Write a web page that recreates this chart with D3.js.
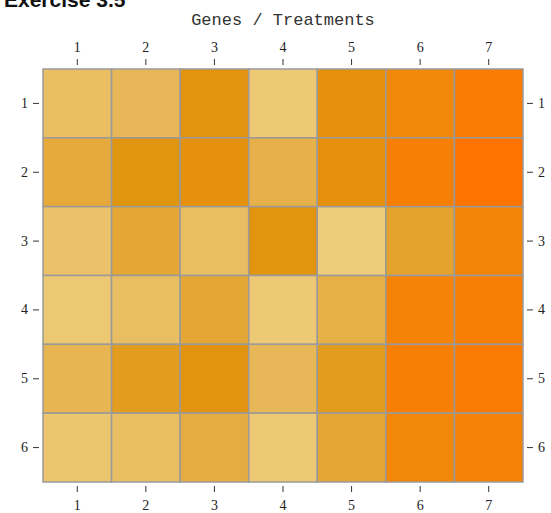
<!DOCTYPE html>
<html lang="en">
<head>
<meta charset="utf-8">
<title>Genes / Treatments</title>
<style>
  body { margin: 0; background: #fff; }
  .tick text { font-family: "Liberation Serif", serif; font-size: 14px; fill: #222; }
  .tick line { stroke: #333; }
</style>
</head>
<body>
<div id="chart"></div>
<script src="https://cdn.jsdelivr.net/npm/d3@7"></script>
<script>
var treatments = ["1", "2", "3", "4", "5", "6", "7"];
var genes = ["1", "2", "3", "4", "5", "6"];

// expression level per gene (row) and treatment (column), 0..1
var row1 = [0.22, 0.30, 0.58, 0.10, 0.62, 0.78, 0.92];
var row2 = [0.40, 0.55, 0.62, 0.35, 0.64, 0.88, 1.00];
var row3 = [0.18, 0.42, 0.24, 0.56, 0.06, 0.45, 0.82];
var row4 = [0.12, 0.24, 0.42, 0.10, 0.36, 0.84, 0.88];
var row5 = [0.32, 0.50, 0.58, 0.30, 0.50, 0.88, 0.92];
var row6 = [0.14, 0.22, 0.38, 0.10, 0.42, 0.80, 0.86];
var values = [row1, row2, row3, row4, row5, row6];

var width = 551, height = 513;
var gridLeft = 43, gridRight = 523, gridTop = 69, gridBottom = 482;

var svg = d3.select("#chart").append("svg")
    .attr("width", width)
    .attr("height", height);

var x = d3.scaleBand().domain(treatments).range([gridLeft, gridRight]);
var y = d3.scaleBand().domain(genes).range([gridTop, gridBottom]);

var color = d3.scaleLinear()
    .domain([0, 0.3, 0.55, 0.8, 1])
    .range(["#efd283", "#e8b858", "#e09510", "#f2870a", "#ff7300"]);

// header text cut off at the top of the image
svg.append("text")
    .attr("x", 4)
    .attr("y", 7)
    .style("font-family", "Liberation Sans, sans-serif")
    .style("font-weight", "bold")
    .style("font-size", "21px")
    .style("fill", "#111")
    .text("Exercise 3.5");

svg.append("text")
    .attr("x", 283)
    .attr("y", 25)
    .attr("text-anchor", "middle")
    .style("font-family", "Liberation Mono, monospace")
    .style("font-size", "17px")
    .style("fill", "#333")
    .text("Genes / Treatments");

var cells = [];
values.forEach(function(r, i) {
  r.forEach(function(v, j) {
    cells.push({gene: genes[i], treat: treatments[j], value: v});
  });
});

svg.selectAll(".cell")
    .data(cells)
  .enter().append("rect")
    .attr("class", "cell")
    .attr("x", function(d) { return x(d.treat); })
    .attr("y", function(d) { return y(d.gene); })
    .attr("width", x.bandwidth())
    .attr("height", y.bandwidth())
    .attr("fill", function(d) { return color(d.value); })
    .attr("stroke", "#9a9a9a")
    .attr("stroke-width", 1.5);

var gap = 4;

svg.append("g")
    .attr("transform", "translate(0," + (gridTop - gap) + ")")
    .call(d3.axisTop(x).tickSize(6).tickPadding(7))
    .call(function(g) { g.select(".domain").remove(); });

svg.append("g")
    .attr("transform", "translate(0," + (gridBottom + gap) + ")")
    .call(d3.axisBottom(x).tickSize(6).tickPadding(8))
    .call(function(g) { g.select(".domain").remove(); });

svg.append("g")
    .attr("transform", "translate(" + (gridLeft - gap) + ",0)")
    .call(d3.axisLeft(y).tickSize(6).tickPadding(5))
    .call(function(g) { g.select(".domain").remove(); });

svg.append("g")
    .attr("transform", "translate(" + (gridRight + gap) + ",0)")
    .call(d3.axisRight(y).tickSize(6).tickPadding(5))
    .call(function(g) { g.select(".domain").remove(); });
</script>
</body>
</html>
